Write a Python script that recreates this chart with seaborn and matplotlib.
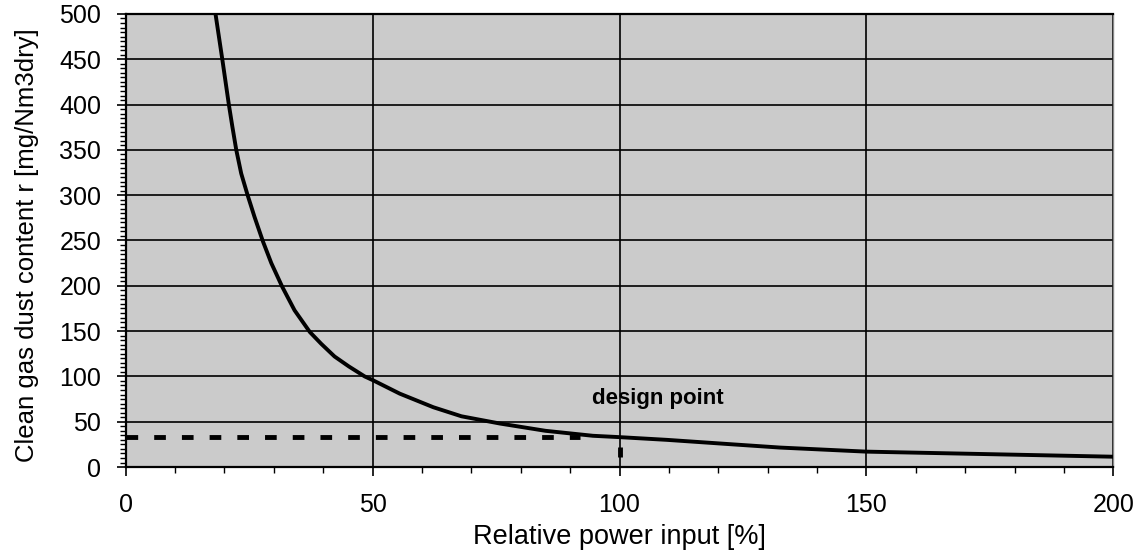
import matplotlib
matplotlib.use("Agg")
import matplotlib.pyplot as plt
import seaborn as sns
import pandas as pd
from matplotlib.ticker import MultipleLocator

# Data
power = [18.2, 19.6, 20.9, 21.6, 22.4, 23.4, 24.7, 26.1, 27.8, 29.5, 31.7, 34.2,
         37.3, 39.6, 42.3, 45.2, 48.4, 50.0, 55.5, 62.3, 68.0, 75.8, 85.0, 94.6,
         100.0, 109.6, 123.0, 132.5, 150.0, 200.0]
dust = [500, 449, 400, 376, 350, 324, 300, 276, 249, 225, 199, 173,
        149, 136, 122, 111, 100, 96, 81, 66, 56, 48, 40, 34.5,
        33, 30, 25, 21.5, 17, 11.4]
design_x = 100
design_y = 33
design_h_end = 92
design_label = "design point"

sns.set_theme(style="white")
plt.rcParams['font.family'] = ['Liberation Sans', 'DejaVu Sans']

fig = plt.figure(figsize=(11.42, 5.58), dpi=100)
ax = fig.add_axes([0.110, 0.163, 0.865, 0.812])
ax.set_facecolor("#cbcbcb")

df = pd.DataFrame({"power": power, "dust": dust})
sns.lineplot(data=df, x="power", y="dust", ax=ax, color="black", linewidth=2.8,
             sort=True, estimator=None, zorder=5)

# design point markers (dashed)
ax.plot([0, design_h_end], [design_y, design_y], color="black", linewidth=3.5,
        dashes=(2.4, 3.3), dash_capstyle="butt", zorder=4)
ax.plot([design_x, design_x], [11, 22], color="black", linewidth=3.5,
        solid_capstyle="butt", zorder=4)
ax.text(107.8, 76, design_label, fontsize=16, fontweight="bold", ha="center",
        va="center", color="black", zorder=6)

ax.set_xlim(0, 200)
ax.set_ylim(0, 500)
ax.xaxis.set_major_locator(MultipleLocator(50))
ax.xaxis.set_minor_locator(MultipleLocator(10))
ax.yaxis.set_major_locator(MultipleLocator(50))
ax.yaxis.set_minor_locator(MultipleLocator(5))

ax.grid(True, which="major", color="black", linewidth=1.2)
ax.set_axisbelow(True)

ax.tick_params(axis="both", which="major", direction="out", length=6.5, width=1.2,
               color="black", labelsize=18, labelcolor="black", bottom=True, left=True)
ax.tick_params(axis="both", which="minor", direction="out", length=4, width=1.0,
               color="black", bottom=True, left=True)
ax.tick_params(axis="x", which="major", pad=12)
ax.tick_params(axis="y", which="major", pad=11)

for side in ["left", "bottom", "top"]:
    ax.spines[side].set_color("black")
    ax.spines[side].set_linewidth(1.6)
ax.spines["right"].set_color("#888888")
ax.spines["right"].set_linewidth(1.0)

ax.set_xlabel("Relative power input [%]", fontsize=19.5, color="black", labelpad=5)
ax.set_ylabel("Clean gas dust content r [mg/Nm3dry]", fontsize=18.5, color="black")
ax.yaxis.set_label_coords(-0.088, 0.49)

fig.savefig("out.png", dpi=100, facecolor="white")
